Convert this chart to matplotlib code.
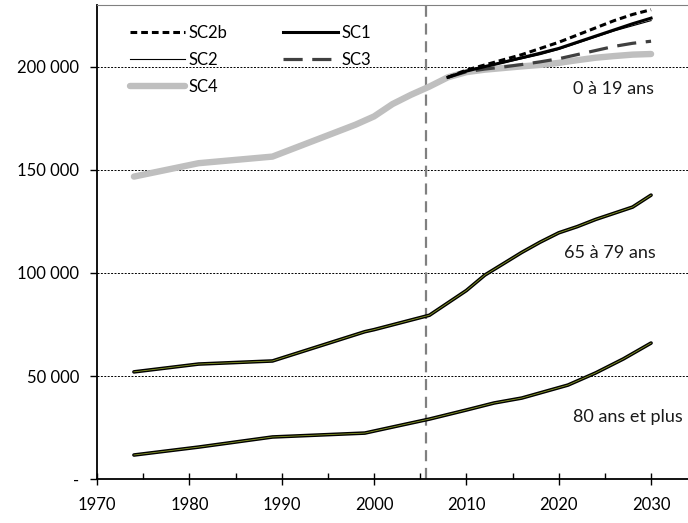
import matplotlib
matplotlib.use("Agg")
import matplotlib.pyplot as plt
from matplotlib.ticker import FixedLocator, FuncFormatter, MultipleLocator

plt.rcParams['font.family'] = ['Lato', 'DejaVu Sans']

# ---- data ----
hist_years = [1974, 1981, 1989, 1998, 2000, 2002, 2004, 2006, 2008]
young_hist = [146800, 153300, 156500, 172000, 176000, 182000, 186500, 190500, 195000]

proj_years = [2008, 2010, 2012, 2014, 2016, 2018, 2020, 2022, 2024, 2026, 2028, 2030]
sc4 = [195000, 197500, 198700, 199500, 200300, 201000, 202000, 203300, 204500, 205300, 206000, 206300]
sc3 = [195000, 197700, 199000, 200000, 201200, 202500, 204000, 206000, 208000, 210000, 211500, 212500]
sc2 = [195000, 198000, 200000, 202000, 204000, 206000, 208500, 211500, 214500, 217500, 220000, 222500]
sc1 = [195000, 198000, 200200, 202300, 204500, 206700, 209000, 212000, 215000, 218000, 221000, 223700]
sc2b = [195000, 198500, 201000, 203500, 206000, 209000, 212000, 215500, 219000, 222500, 225500, 227800]

mid_years = [1974, 1981, 1989, 1999, 2000, 2003, 2006, 2008, 2010, 2012, 2014, 2016, 2018,
             2020, 2022, 2024, 2026, 2028, 2030]
mid_vals = [52000, 55800, 57300, 71500, 72500, 76000, 79500, 85500, 91500, 99000, 104500,
            110000, 115000, 119500, 122500, 126000, 129000, 132000, 137800]

old_years = [1974, 1981, 1989, 1999, 2003, 2006, 2010, 2013, 2016, 2021, 2024, 2027, 2030]
old_vals = [11650, 15500, 20400, 22300, 26200, 29100, 33500, 36900, 39300, 45600, 51500,
            58300, 66000]

group_labels = ["0 à 19 ans", "65 à 79 ans", "80 ans et plus"]
label_x = [2021.5, 2020.6, 2021.5]
label_values = [189500, 109500, 30000]
split_year = 2005.6

# ---- figure ----
fig = plt.figure(figsize=(6.88, 5.23), dpi=100)
ax = fig.add_axes([0.141, 0.0841, 0.859, 0.906])

ax.set_xlim(1970, 2034)
ax.set_ylim(0, 230000)

for v in [50000, 100000, 150000, 200000]:
    ax.axhline(v, color='black', lw=0.7, ls=(0, (2, 1.5)), zorder=1)

ax.axvline(split_year, color='#808080', lw=1.6, ls=(0, (5, 3)), zorder=1.5)

# 0-19
ax.plot(hist_years + proj_years[1:], young_hist + sc4[1:], color='#BFBFBF', lw=4.6,
        solid_capstyle='round', zorder=2, label='SC4')
ax.plot(proj_years, sc3, color='#404040', lw=2.3, ls=(0, (6, 3)), zorder=3, label='SC3')
ax.plot(proj_years, sc2, color='black', lw=0.8, zorder=3, label='SC2')
ax.plot(proj_years, sc1, color='black', lw=2.2, zorder=3, label='SC1')
ax.plot(proj_years, sc2b, color='black', lw=2.2, ls=(0, (2.2, 1.3)), zorder=3, label='SC2b')

# 65-79 and 80+
for yrs, vals in [(mid_years, mid_vals), (old_years, old_vals)]:
    ax.plot(yrs, vals, color='black', lw=2.6, zorder=3, solid_capstyle='round')
    ax.plot(yrs, vals, color='#8A9A28', lw=0.6, zorder=3.5)

for txt, x, v in zip(group_labels, label_x, label_values):
    ax.text(x, v, txt, ha='left', va='center', fontsize=13, color='#1a1a1a')

# axes styling
ax.spines['right'].set_visible(False)
ax.spines['top'].set_color('#808080')
ax.spines['left'].set_linewidth(1.3)
ax.spines['bottom'].set_linewidth(1.3)

ax.xaxis.set_major_locator(MultipleLocator(10))
ax.xaxis.set_minor_locator(MultipleLocator(5))
ax.tick_params(axis='x', which='major', direction='inout', length=8, width=1, pad=9, labelsize=12)
ax.tick_params(axis='x', which='minor', direction='in', length=4, width=1)
ax.yaxis.set_major_locator(FixedLocator([0, 50000, 100000, 150000, 200000]))
ax.tick_params(axis='y', which='major', direction='out', length=5, width=1, pad=8, labelsize=12)

def yfmt(v, pos):
    if v == 0:
        return '-'
    return f"{int(v):,}".replace(',', ' ')
ax.yaxis.set_major_formatter(FuncFormatter(yfmt))

handles, labels = ax.get_legend_handles_labels()
order = ['SC2b', 'SC2', 'SC4', 'SC1', 'SC3']
hd = dict(zip(labels, handles))
leg = ax.legend([hd[k] for k in order], order, ncol=2, loc='upper left',
                bbox_to_anchor=(0.03, 0.99), frameon=False, fontsize=12,
                handlelength=3.3, labelspacing=0.65, columnspacing=3.3, handletextpad=0.25)

fig.savefig('out.png', dpi=100, facecolor='white')
